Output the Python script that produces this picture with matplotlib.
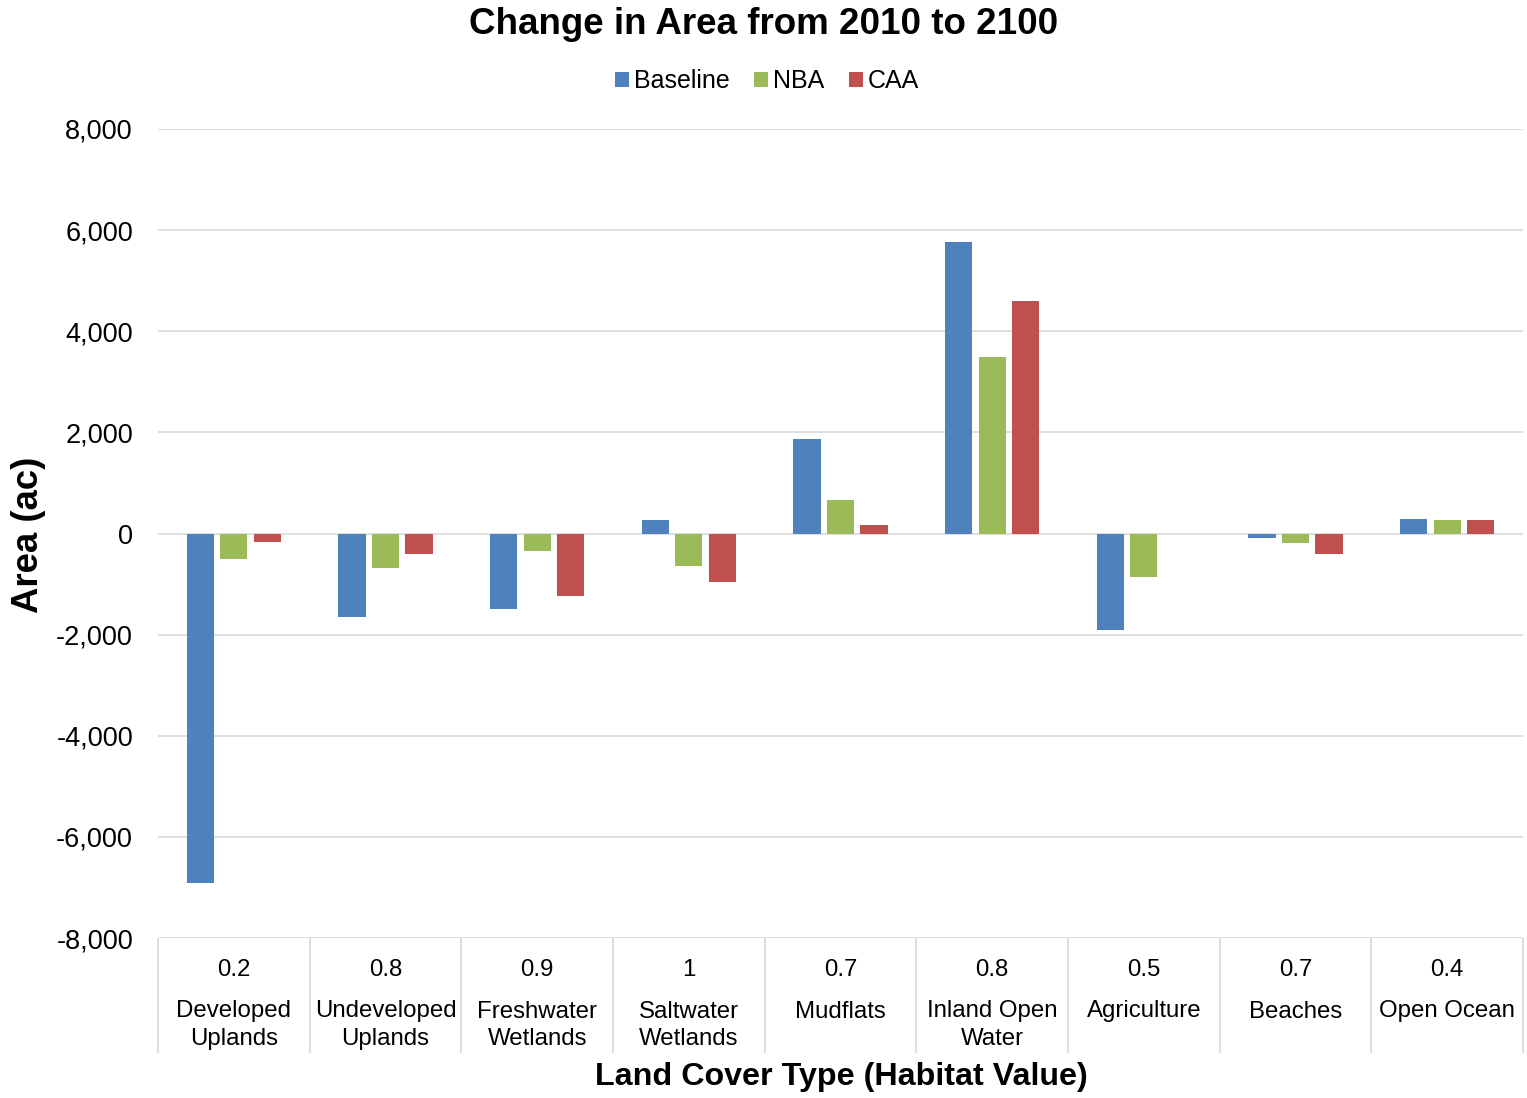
import matplotlib.pyplot as plt
import numpy as np

plt.rcParams['font.family'] = ['Liberation Sans', 'DejaVu Sans']

# data
categories = ['Developed\nUplands', 'Undeveloped\nUplands', 'Freshwater\nWetlands',
              'Saltwater\nWetlands', 'Mudflats', 'Inland Open\nWater', 'Agriculture',
              'Beaches', 'Open Ocean']
habitat_values = ['0.2', '0.8', '0.9', '1', '0.7', '0.8', '0.5', '0.7', '0.4']
baseline = [-6920, -1650, -1500, 270, 1870, 5775, -1910, -80, 285]
nba = [-500, -690, -340, -645, 660, 3500, -870, -190, 265]
caa = [-170, -410, -1230, -960, 160, 4590, 0, -410, 265]

series = [('Baseline', baseline, '#4F81BD'),
          ('NBA', nba, '#9BBB59'),
          ('CAA', caa, '#C0504D')]

fig = plt.figure(figsize=(15.27, 10.98), dpi=100)
ax = fig.add_axes([158/1527, 1 - 938/1098, (1523-158)/1527, (938-129)/1098])

x = np.arange(len(categories))
w = 0.18
step = 0.22
for i, (name, vals, col) in enumerate(series):
    ax.bar(x + (i - 1) * step, vals, width=w, color=col, label=name,
           linewidth=0, zorder=3)

ax.set_xlim(-0.5, len(categories) - 0.5)
ax.set_ylim(-8000, 8000)
ax.set_yticks(range(-8000, 8001, 2000))
ax.set_yticklabels([f'{v:,}' for v in range(-8000, 8001, 2000)], fontsize=19.5)
ax.yaxis.grid(True, color='#d9d9d9', linewidth=1.2, zorder=0)
ax.tick_params(axis='y', length=0, pad=18)
for s in ax.spines.values():
    s.set_visible(False)

# category separators (long major ticks) and value labels (minor ticks)
ax.set_xticks(np.arange(-0.5, len(categories)), labels=[''] * (len(categories) + 1))
ax.tick_params(axis='x', which='major', length=83, color='#d9d9d9', width=1.2)
ax.set_xticks(x, labels=habitat_values, minor=True)
ax.tick_params(axis='x', which='minor', length=0, pad=15, labelsize=17.3)

for xi, name in zip(x, categories):
    ax.annotate(name, xy=(xi, 0), xycoords=('data', 'axes fraction'),
                xytext=(0, -45), textcoords='offset points',
                ha='center', va='top', fontsize=17.3, linespacing=1.3)

fig.text(0.5, 1 - 24/1098, 'Change in Area from 2010 to 2100', ha='center', va='center',
         fontsize=26.5, fontweight='bold')
fig.text(841/1527, 1 - 1077/1098, 'Land Cover Type (Habitat Value)', ha='center',
         va='center', fontsize=23.2, fontweight='bold')
fig.text(28/1527, 1 - 535/1098, 'Area (ac)', ha='center', va='center', rotation=90,
         fontsize=26.3, fontweight='bold')

fig.legend(loc='center', bbox_to_anchor=(767/1527, 1 - 81/1098), ncol=3, frameon=False,
           fontsize=18, handlelength=0.55, handleheight=0.55, handletextpad=0.2,
           columnspacing=1.0)

fig.savefig('out.png', dpi=100)
